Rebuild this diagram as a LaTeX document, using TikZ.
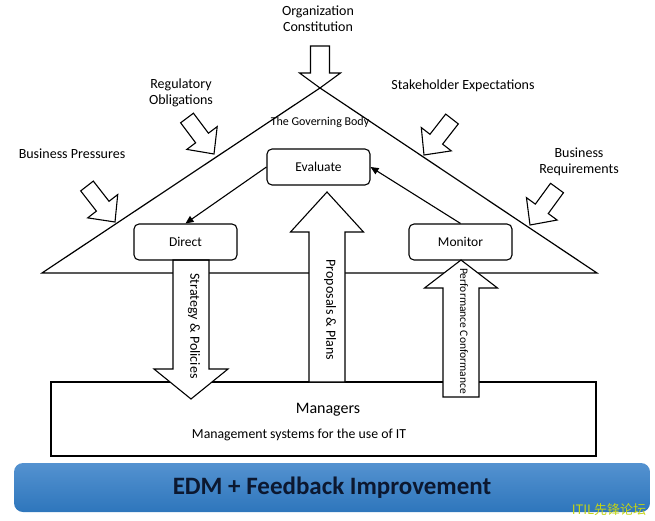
\documentclass[tikz,border=0pt]{standalone}
\usepackage{fontspec}
\setmainfont{Carlito}
\newfontfamily\cjkfont{Noto Sans CJK SC}
\usepackage{xcolor}
\definecolor{bartop}{RGB}{84, 146, 208}
\definecolor{barbottom}{RGB}{46, 118, 188}
\definecolor{barnavy}{RGB}{12, 24, 48}
\definecolor{markgreen}{RGB}{196, 212, 20}
\usetikzlibrary{arrows.meta, calc}

\tikzset{
    stage/.style={draw, line width=1.1pt, rounded corners=5pt, minimum width=103pt, minimum height=36pt, font=\fontsize{13.5}{16}\selectfont},
    sidetext/.style={align=center, inner sep=0pt, font=\fontsize{14}{16}\selectfont},
    bigarrow/.style={draw, fill=white, line width=1.1pt, line join=miter},
    flow/.style={line width=1.1pt, -{Triangle[length=8pt, width=7pt]}},
}

% tail, tip, shaft half width, head half width, head length
\newcommand{\bigarrow}[5]{%
    \coordinate (ah) at ($(#2)!#5!(#1)$);
    \draw[bigarrow] ($(#1)!#3!90:(#2)$) -- ($(ah)!#3!90:(#2)$) -- ($(ah)!#4!90:(#2)$) -- (#2)
        -- ($(ah)!#4!-90:(#2)$) -- ($(ah)!#3!-90:(#2)$) -- ($(#1)!#3!-90:(#2)$) -- cycle;}

\begin{document}
\begin{tikzpicture}[x=1pt, y=-1pt]
    \useasboundingbox (0,0) rectangle (655,521);

    % governing body roof and managers
    \draw[line width=1.2pt] (42,273) coordinate (roofleft) -- (320,88) coordinate (apex) -- (597,273) coordinate (roofright) -- cycle;
    \node[draw, line width=1.2pt, minimum width=545pt, minimum height=74pt, inner sep=0pt] (managers) at (323.5,419) {};

    % outside pressures
    \node[sidetext] (orgtext) at (318,19) {Organization\\Constitution};
    \node[sidetext] (regtext) at (181,93) {Regulatory\\Obligations};
    \node[sidetext] (staketext) at (463,86) {Stakeholder Expectations};
    \node[sidetext] (presstext) at (72,154) {Business Pressures};
    \node[sidetext] (reqtext) at (579,162) {Business\\Requirements};

    \coordinate (orgtail) at (320,46);
    \coordinate (regtail) at (187,118);   \coordinate (regtip) at (214,154);
    \coordinate (presstail) at (87,186);  \coordinate (presstip) at (115,222);
    \coordinate (staketail) at (452,119); \coordinate (staketip) at (424,155);
    \coordinate (reqtail) at (557,188);   \coordinate (reqtip) at (530,225);
    \bigarrow{orgtail}{apex}{9.5pt}{20.5pt}{15pt}
    \bigarrow{regtail}{regtip}{8pt}{19pt}{20pt}
    \bigarrow{presstail}{presstip}{8pt}{19pt}{20pt}
    \bigarrow{staketail}{staketip}{8pt}{19pt}{20pt}
    \bigarrow{reqtail}{reqtip}{8pt}{19pt}{20pt}

    % flows between board and managers
    \coordinate (strattail) at (191,260);  \coordinate (strattip) at (191,399);
    \coordinate (proptail) at (327,382);   \coordinate (proptip) at (327,192);
    \coordinate (perftail) at (461,397);   \coordinate (perftip) at (461,260);
    \bigarrow{strattail}{strattip}{18pt}{37pt}{30pt}
    \bigarrow{proptail}{proptip}{18pt}{36.5pt}{40pt}
    \bigarrow{perftail}{perftip}{18pt}{36.5pt}{28pt}
    \node[sidetext, rotate=-90] (strattext) at (194,326) {Strategy \& Policies};
    \node[sidetext, rotate=-90] (proptext) at (330,310) {Proposals \& Plans};
    \node[sidetext, rotate=-90, font=\fontsize{11.5}{14}\selectfont] (perftext) at (464,331) {Performance Conformance};

    % EDM cycle
    \node[sidetext, font=\fontsize{12}{14}\selectfont] (board) at (320,122) {The Governing Body};
    \node[stage] (evaluate) at (318.5,167) {Evaluate};
    \node[stage] (direct) at (185.5,242) {Direct};
    \node[stage] (monitor) at (460.5,242) {Monitor};
    \draw[flow] (evaluate.west) -- (direct.north);
    \draw[flow] (monitor.north) -- (evaluate.east);

    \node[sidetext, font=\fontsize{16}{19}\selectfont] (mgrtext) at (328,410) {Managers};
    \node[sidetext, font=\fontsize{13.8}{16}\selectfont] (mgrsys) at (299,435) {Management systems for the use of IT};

    % improvement bar
    \node[rounded corners=9pt, top color=bartop, bottom color=barbottom, minimum width=636pt, minimum height=49pt,
        text=barnavy, font=\bfseries\fontsize{25}{29}\selectfont] (edm) at (332,487.5) {EDM + Feedback Improvement};
    \node[text=markgreen, inner sep=0pt, font=\cjkfont\fontsize{13}{15}\selectfont] (watermark) at (609,510) {ITIL先锋论坛};
\end{tikzpicture}
\end{document}
